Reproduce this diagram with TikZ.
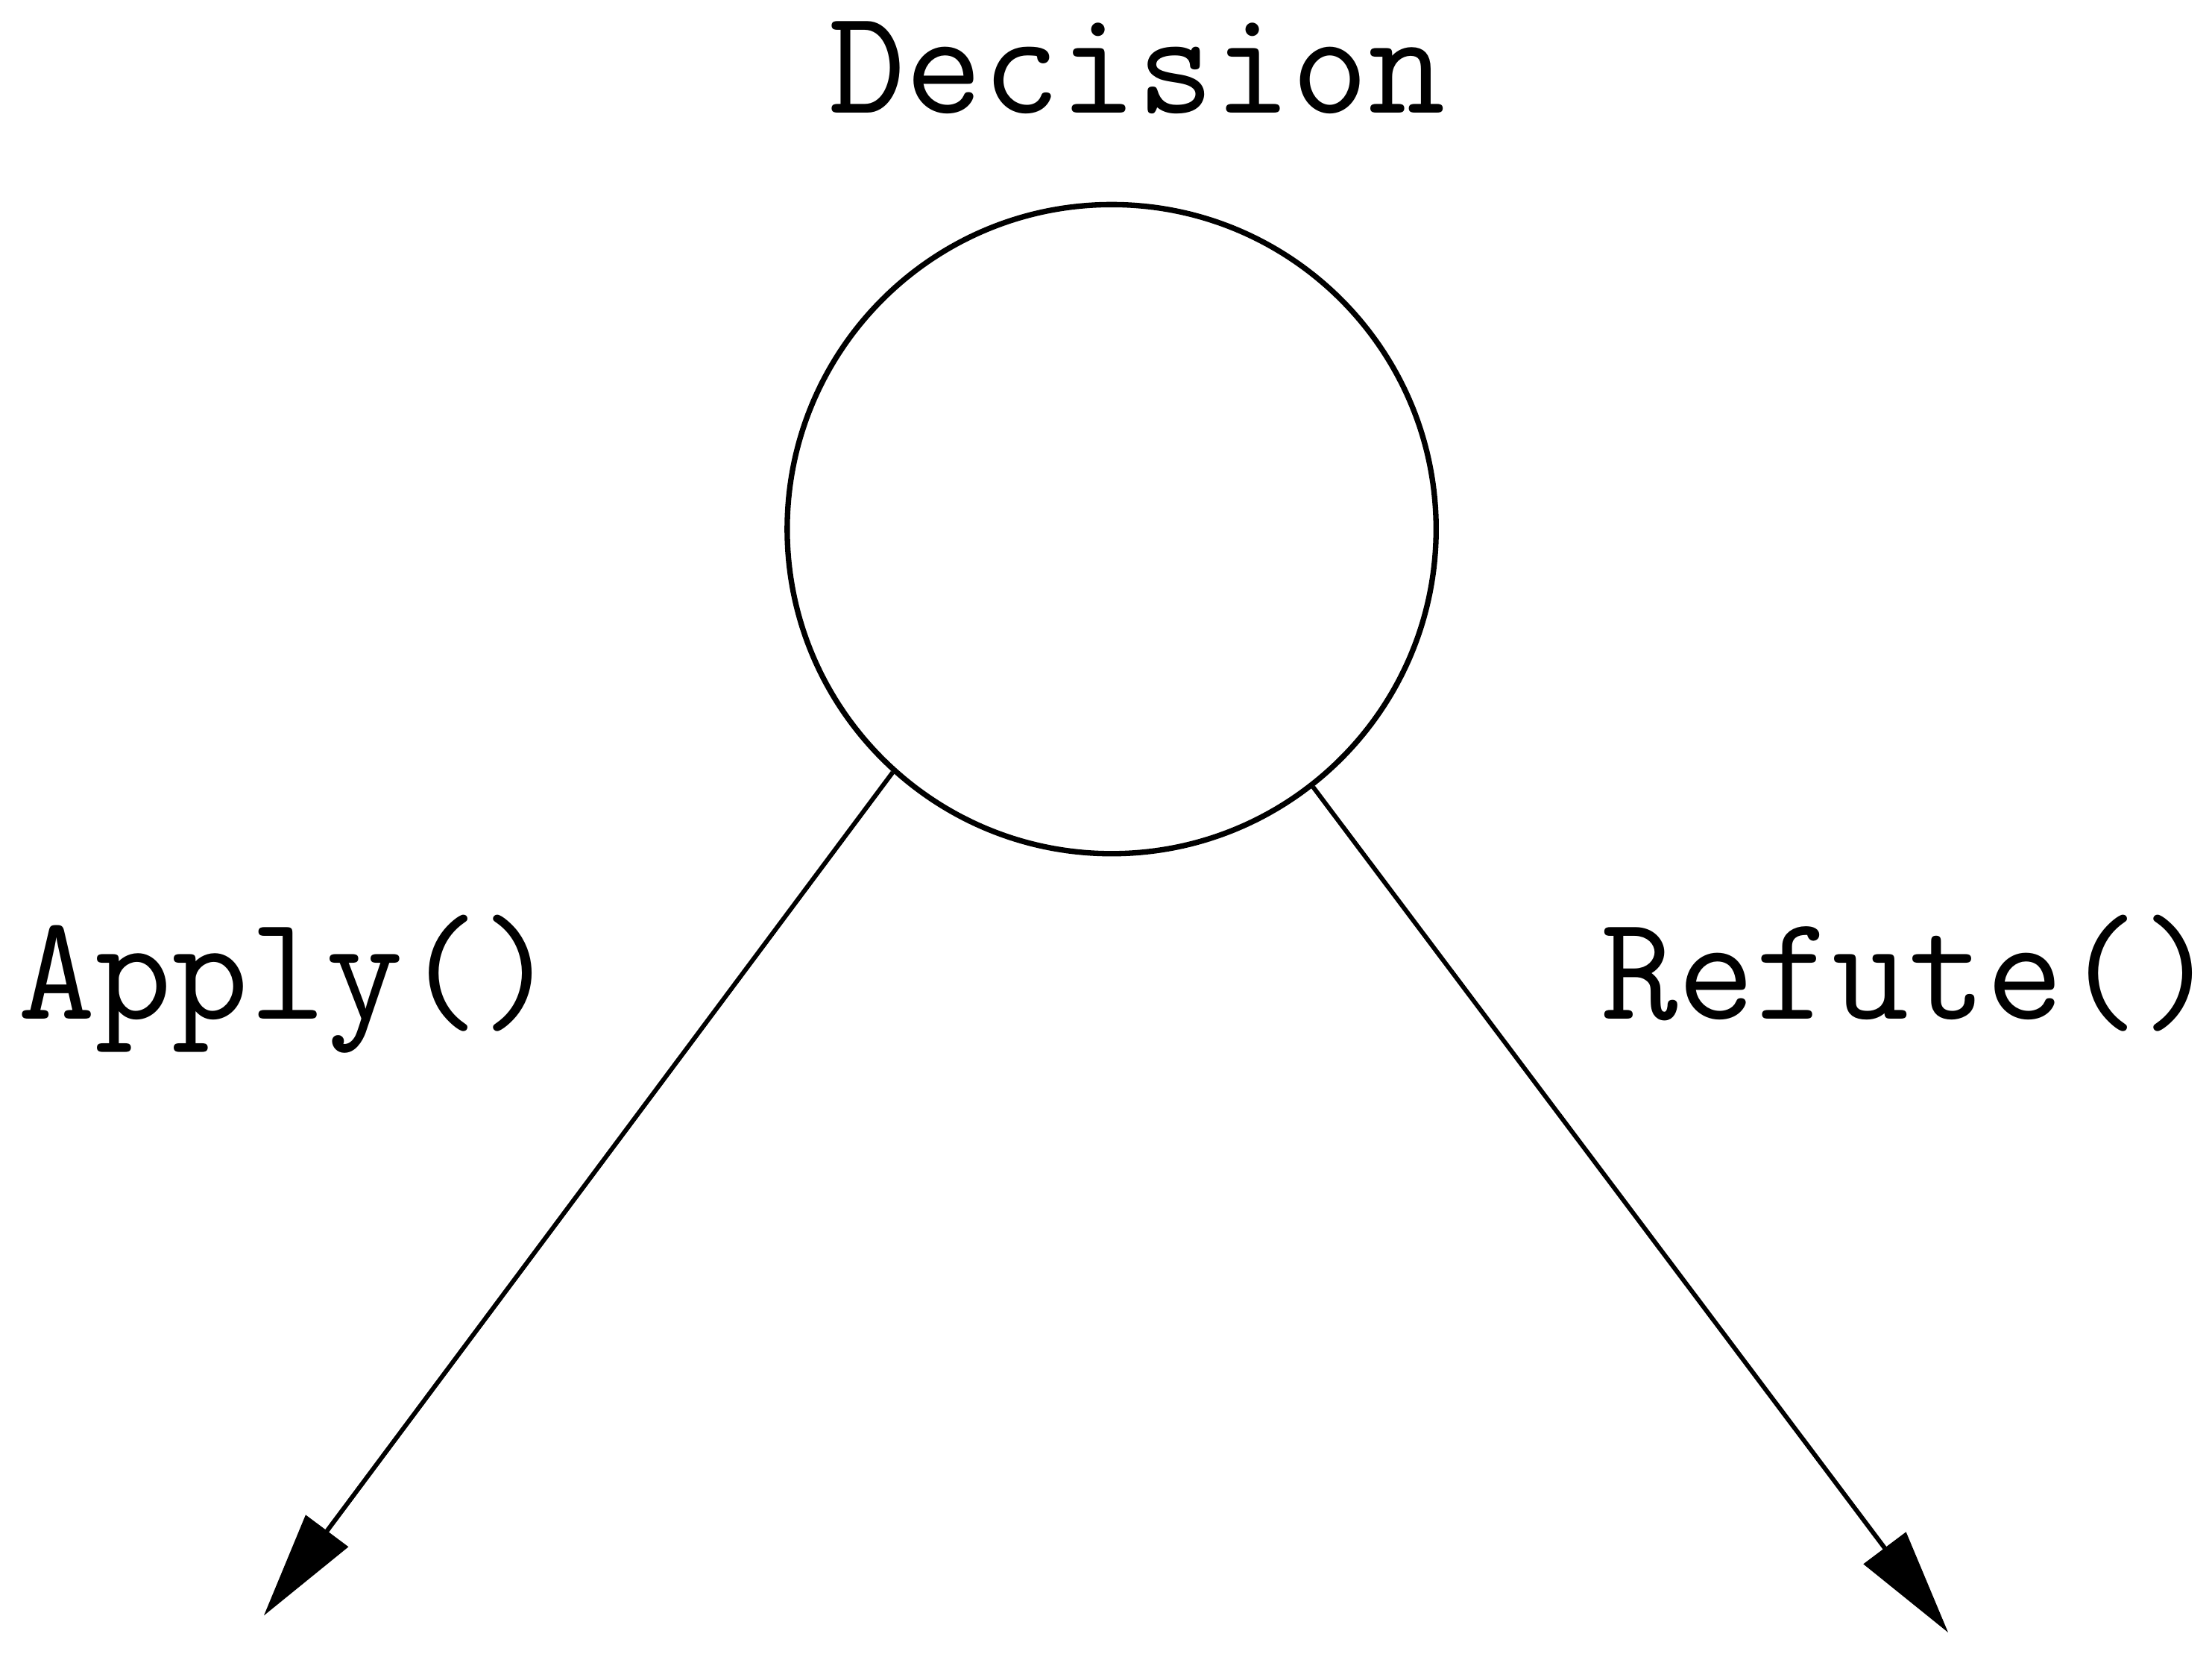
\documentclass[tikz,border=0pt]{standalone}
\usepackage{fontspec}
\usetikzlibrary{arrows.meta}
\tikzset{
  lbl/.style={font=\fontsize{30.2}{35}\selectfont\ttfamily,inner sep=0pt},
  choice/.style={->,line width=0.9pt},
}
\begin{document}
\begin{tikzpicture}[>={Triangle[length=7.5mm,width=3.7mm]},x=1cm,y=1cm]
\useasboundingbox (0,0) rectangle (15.68,11.72);
\node[draw,circle,line width=1.1pt,minimum size=4.6cm,inner sep=0pt] (dec) at (7.88,7.97) {};
\node[lbl,anchor=base] (title) at (8.06,10.92) {Decision};
\node[lbl,anchor=base west] (apply) at (0.12,4.50) {Apply()};
\node[lbl,anchor=base west] (refute) at (11.34,4.50) {Refute()};
\coordinate (A) at (1.87,0.27); % đầu mũi tên trái
\coordinate (R) at (13.81,0.15); % đầu mũi tên phải
\draw[choice] (dec.228.3) -- (A);
\draw[choice] (dec.308.1) -- (R);
\end{tikzpicture}
\end{document}
